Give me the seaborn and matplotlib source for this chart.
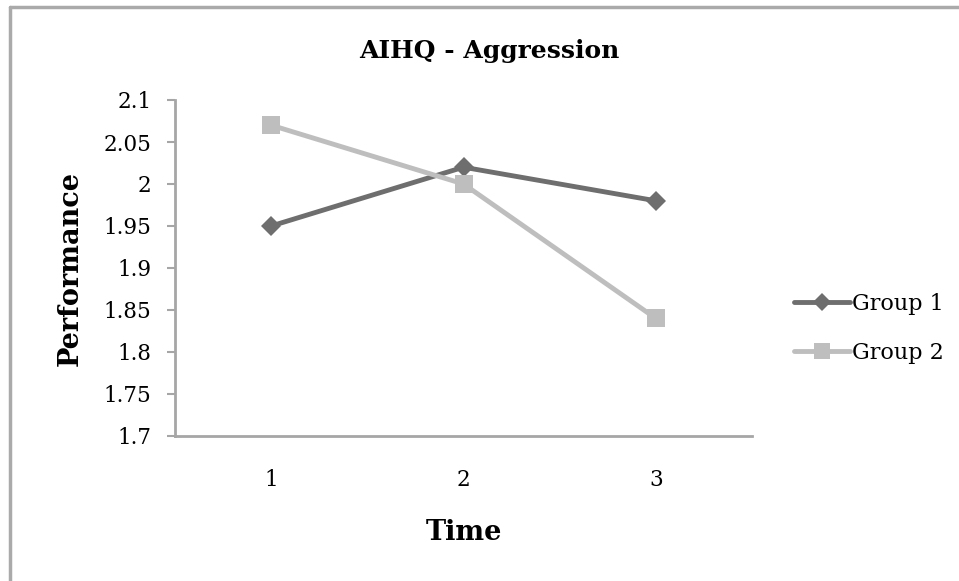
import matplotlib
matplotlib.use("Agg")
import matplotlib.pyplot as plt
import seaborn as sns
import pandas as pd
from matplotlib.lines import Line2D

time_points = [1, 2, 3]
group1 = [1.95, 2.02, 1.98]
group2 = [2.07, 2.00, 1.84]
series_names = ["Group 1", "Group 2"]
y_ticks = [1.7, 1.75, 1.8, 1.85, 1.9, 1.95, 2.0, 2.05, 2.1]
y_tick_labels = ["1.7", "1.75", "1.8", "1.85", "1.9", "1.95", "2", "2.05", "2.1"]

df = pd.DataFrame({
    "Time": time_points * 2,
    "Performance": group1 + group2,
    "Group": [series_names[0]] * 3 + [series_names[1]] * 3,
})

sns.set_style("white")
plt.rcParams["font.family"] = ["DejaVu Serif"]
plt.rcParams["text.color"] = "black"
plt.rcParams["axes.labelcolor"] = "black"
plt.rcParams["xtick.color"] = "black"
plt.rcParams["ytick.color"] = "black"

fig = plt.figure(figsize=(9.59, 5.81), dpi=100)
ax = fig.add_axes([175/959, 1-436/581, (752-175)/959, (436-100)/581])

palette = {"Group 1": "#6e6e6e", "Group 2": "#bebebe"}
markers = {"Group 1": "D", "Group 2": "s"}
sizes = {"Group 1": 10, "Group 2": 13}
for name in series_names:
    sub = df[df["Group"] == name]
    sns.lineplot(data=sub, x="Time", y="Performance", ax=ax, color=palette[name],
                 marker=markers[name], markersize=sizes[name], markeredgewidth=0,
                 linewidth=3.5, label=name, legend=False)

ax.set_xlim(0.5, 3.5)
ax.set_ylim(1.7, 2.1)
ax.set_xticks(time_points)
ax.set_xticklabels([str(t) for t in time_points], fontsize=15.5)
ax.set_yticks(y_ticks)
ax.set_yticklabels(y_tick_labels, fontsize=15.5)
ax.tick_params(axis="y", length=6, width=1.5, color="#a6a6a6", labelcolor="black",
               direction="out", pad=11, left=True)
ax.tick_params(axis="x", length=0, pad=24, labelcolor="black")
for s in ["top", "right"]:
    ax.spines[s].set_visible(False)
for s in ["left", "bottom"]:
    ax.spines[s].set_color("#a6a6a6")
    ax.spines[s].set_linewidth(2)

ax.set_xlabel("Time", fontsize=19.5, fontweight="bold", labelpad=20)
ax.set_ylabel("Performance", fontsize=19.5, fontweight="bold", labelpad=14)
ax.set_title("AIHQ - Aggression", fontsize=18, fontweight="bold", pad=30, x=0.545)

handles = [Line2D([0], [0], color=palette[n], marker=markers[n], markersize=sizes[n] * 0.9,
                  markeredgewidth=0, linewidth=3.5) for n in series_names]
fig.legend(handles, series_names, loc="center left", bbox_to_anchor=(783/959, 1-328.5/581),
           frameon=False, fontsize=16, handlelength=2.5, handletextpad=0.1, labelspacing=1.2,
           borderpad=0)

fig.add_artist(Line2D([10/959, 10/959], [0, 1-7/581], transform=fig.transFigure, color="#aaaaaa", linewidth=2.5))
fig.add_artist(Line2D([10/959, 1], [1-7/581, 1-7/581], transform=fig.transFigure, color="#aaaaaa", linewidth=2.5))

fig.savefig("out.png", dpi=100)
